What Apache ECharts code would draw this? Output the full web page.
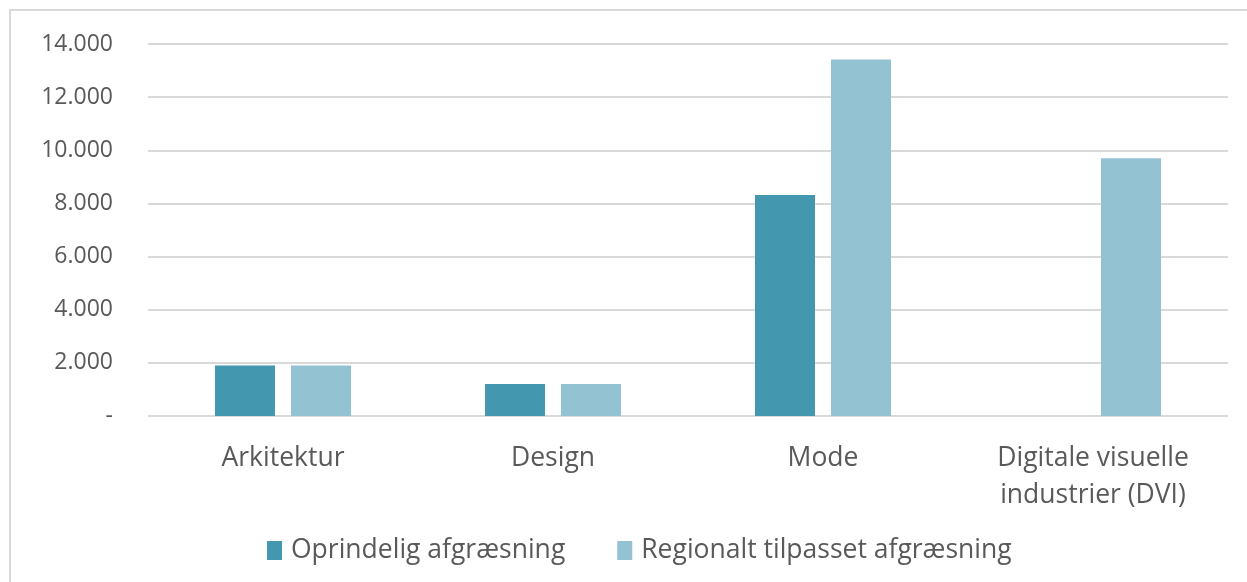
<!DOCTYPE html>
<html>
<head>
<meta charset="utf-8">
<script src="https://cdn.jsdelivr.net/npm/echarts@6/dist/echarts.min.js"></script>
<style>
  html, body { margin: 0; padding: 0; background: #fff; }
  #chart { width: 1247px; height: 582px; }
</style>
</head>
<body>
<div id="chart"></div>
<script>
const categories = ['Arkitektur', 'Design', 'Mode', 'Digitale visuelle\nindustrier (DVI)']
const seriesNames = ['Oprindelig afgræsning', 'Regionalt tilpasset afgræsning']
const oprindelig = [1900, 1200, 8320, 0]
const regionalt = [1900, 1200, 13420, 9700]
const colors = ['#4397AE', '#93C2D3']

const chart = echarts.init(document.getElementById('chart'))
const textColor = '#595959'
const font = '"Open Sans", sans-serif'

chart.setOption({
  animation: false,
  graphic: [{
    type: 'rect',
    shape: { x: 10, y: 10, width: 1260, height: 600 },
    style: { fill: 'none', stroke: '#D9D9D9', lineWidth: 2 },
    silent: true,
  }],
  grid: { left: 148, right: 19, top: 44, bottom: 166 },
  legend: {
    data: seriesNames,
    left: 262,
    top: 532,
    itemWidth: 15,
    itemHeight: 19,
    itemGap: 52,
    icon: 'rect',
    textStyle: { fontSize: 26.5, color: textColor, fontFamily: font, padding: [0, 0, 0, 4] },
  },
  xAxis: {
    type: 'category',
    data: categories,
    axisLine: { show: false },
    axisTick: { show: false },
    axisLabel: { fontSize: 26.5, color: textColor, fontFamily: font, margin: 24, lineHeight: 37 },
  },
  yAxis: {
    type: 'value',
    min: 0,
    max: 14000,
    interval: 2000,
    axisLine: { show: false },
    axisTick: { show: false },
    splitLine: { lineStyle: { color: '#D9D9D9', width: 2 } },
    axisLabel: {
      fontSize: 23,
      color: textColor,
      fontFamily: font,
      margin: 35,
      formatter: (v) => (v === 0 ? '-' : String(v).replace(/\B(?=(\d{3})+(?!\d))/g, '.')),
    },
  },
  series: [
    {
      name: seriesNames[0],
      type: 'bar',
      data: oprindelig,
      barWidth: 60,
      barGap: '26.7%',
      itemStyle: { color: colors[0] },
    },
    {
      name: seriesNames[1],
      type: 'bar',
      data: regionalt,
      barWidth: 60,
      itemStyle: { color: colors[1] },
    },
  ],
})
</script>
</body>
</html>
